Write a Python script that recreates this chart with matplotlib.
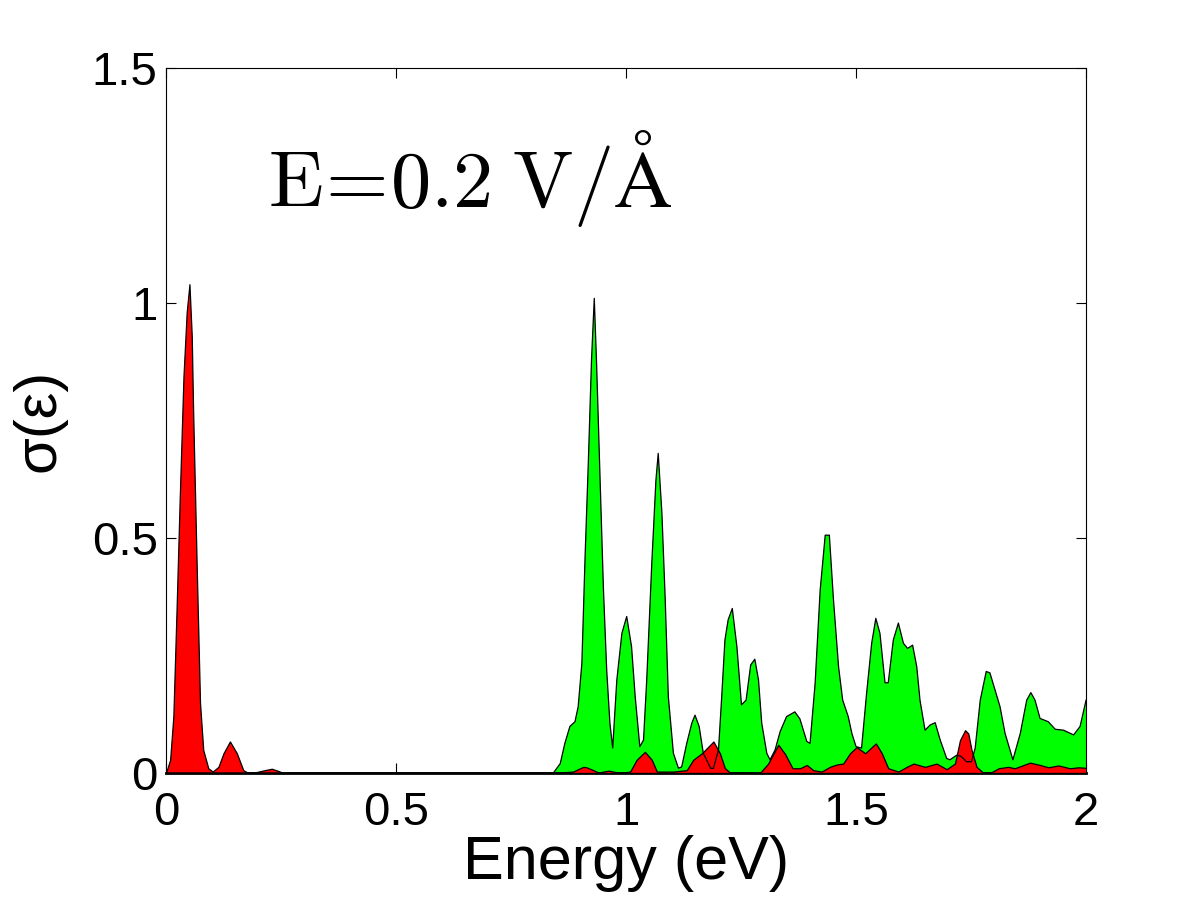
import matplotlib
matplotlib.use('Agg')
import matplotlib.pyplot as plt

plt.rcParams['font.family'] = ['Liberation Sans', 'DejaVu Sans']
plt.rcParams['mathtext.fontset'] = 'cm'

# red curve
energy_red = [0, 0.009, 0.016, 0.023, 0.030, 0.038, 0.045, 0.051, 0.056, 0.059,
              0.067, 0.074, 0.081, 0.092, 0.1015, 0.114, 0.125, 0.139, 0.154, 0.168,
              0.179, 0.197, 0.215, 0.23, 0.245, 0.255, 0.842, 0.885, 0.907, 0.914,
              0.929, 0.94, 0.962, 0.987, 1.009, 1.023, 1.041, 1.056, 1.067, 1.103,
              1.132, 1.146, 1.165, 1.19, 1.204, 1.215, 1.226, 1.291, 1.309, 1.331,
              1.346, 1.362, 1.378, 1.393, 1.407, 1.425, 1.443, 1.458, 1.472, 1.487,
              1.501, 1.52, 1.543, 1.556, 1.57, 1.592, 1.61, 1.625, 1.65, 1.675,
              1.697, 1.715, 1.726, 1.737, 1.744, 1.751, 1.762, 1.777, 1.795, 1.81,
              1.831, 1.845, 1.878, 1.9, 1.918, 1.94, 1.965, 1.983, 2.0]
sigma_red = [0, 0.028, 0.12, 0.347, 0.588, 0.843, 0.98, 1.04, 0.93, 0.77,
             0.43, 0.149, 0.049, 0.01, 0.003, 0.013, 0.042, 0.067, 0.042, 0.006,
             0, 0.002, 0.006, 0.009, 0.004, 0, 0, 0.003, 0.013, 0.012,
             0.006, 0.001, 0.005, 0, 0.003, 0.028, 0.045, 0.028, 0.003, 0.003,
             0.006, 0.028, 0.042, 0.067, 0.042, 0.01, 0.001, 0, 0.02, 0.06,
             0.04, 0.01, 0.01, 0.017, 0.006, 0.003, 0.013, 0.018, 0.02, 0.042,
             0.055, 0.042, 0.063, 0.042, 0.01, 0.003, 0.013, 0.02, 0.013, 0.02,
             0.008, 0.02, 0.07, 0.091, 0.084, 0.049, 0.013, 0, 0.002, 0.01,
             0.013, 0.01, 0.022, 0.017, 0.012, 0.016, 0.01, 0.012, 0.011]

# green curve
energy_green = [0, 0.842, 0.857, 0.867, 0.878, 0.889, 0.896, 0.904, 0.911, 0.918,
                0.925, 0.931, 0.936, 0.943, 0.951, 0.958, 0.965, 0.971, 0.980, 0.991,
                1.0015, 1.012, 1.020, 1.030, 1.038, 1.045, 1.056, 1.065, 1.070, 1.078,
                1.085, 1.092, 1.103, 1.114, 1.121, 1.132, 1.143, 1.150, 1.159, 1.168,
                1.175, 1.184, 1.190, 1.201, 1.208, 1.215, 1.222, 1.231, 1.241, 1.251,
                1.261, 1.271, 1.280, 1.288, 1.295, 1.306, 1.313, 1.324, 1.335, 1.349,
                1.367, 1.378, 1.393, 1.4, 1.411, 1.422, 1.433, 1.442, 1.451, 1.462,
                1.471, 1.483, 1.491, 1.5, 1.512, 1.523, 1.534, 1.543, 1.552, 1.563,
                1.570, 1.581, 1.592, 1.603, 1.612, 1.623, 1.632, 1.639, 1.65, 1.661,
                1.672, 1.683, 1.697, 1.704, 1.719, 1.729, 1.740, 1.751, 1.759, 1.770,
                1.783, 1.791, 1.802, 1.813, 1.824, 1.841, 1.857, 1.871, 1.880, 1.889,
                1.9, 1.918, 1.933, 1.951, 1.973, 1.987, 2.0]
sigma_green = [0, 0, 0.02, 0.063, 0.099, 0.109, 0.141, 0.233, 0.46, 0.659,
               0.879, 1.01, 0.872, 0.645, 0.389, 0.219, 0.106, 0.053, 0.198, 0.297,
               0.333, 0.269, 0.162, 0.056, 0.07, 0.198, 0.446, 0.623, 0.68, 0.553,
               0.375, 0.162, 0.042, 0.01, 0.013, 0.063, 0.106, 0.123, 0.099, 0.042,
               0.028, 0.01, 0.01, 0.049, 0.162, 0.283, 0.326, 0.35, 0.269, 0.145,
               0.155, 0.23, 0.242, 0.198, 0.106, 0.042, 0.028, 0.049, 0.088, 0.12,
               0.13, 0.115, 0.067, 0.063, 0.19, 0.389, 0.506, 0.506, 0.368, 0.226,
               0.155, 0.12, 0.084, 0.056, 0.053, 0.17, 0.276, 0.329, 0.297, 0.192,
               0.192, 0.283, 0.319, 0.276, 0.265, 0.272, 0.226, 0.155, 0.091, 0.102,
               0.107, 0.07, 0.031, 0.028, 0.038, 0.035, 0.024, 0.024, 0.053, 0.155,
               0.216, 0.213, 0.177, 0.141, 0.084, 0.028, 0.084, 0.155, 0.171, 0.155,
               0.116, 0.109, 0.093, 0.091, 0.081, 0.099, 0.155]

xticks = [0, 0.5, 1, 1.5, 2]
xticklabels = ['0', '0.5', '1', '1.5', '2']
yticks = [0, 0.5, 1, 1.5]
yticklabels = ['0', '0.5', '1', '1.5']

fig = plt.figure(figsize=(12.01, 9.01), dpi=100)
ax = fig.add_axes([0.1382, 0.1421, 0.7661, 0.7824])

ax.fill_between(energy_green, sigma_green, 0, facecolor=(0, 1, 0), edgecolor='none', zorder=2)
ax.fill_between(energy_red, sigma_red, 0, facecolor=(1, 0, 0), edgecolor='black', linewidth=0.9, zorder=3)
ax.plot(energy_green, sigma_green, color='black', linewidth=0.9, zorder=4)

ax.set_xlim(0, 2)
ax.set_ylim(0, 1.5)
ax.set_xticks(xticks)
ax.set_xticklabels(xticklabels)
ax.set_yticks(yticks)
ax.set_yticklabels(yticklabels)
ax.tick_params(direction='in', length=7, width=0.8, labelsize=34,
               top=True, right=True)
ax.tick_params(axis='y', pad=6)
ax.tick_params(axis='x', pad=13)
for s in ax.spines.values():
    s.set_linewidth(0.8)
ax.spines['bottom'].set_linewidth(2)

ax.set_xlabel('Energy (eV)', fontsize=44, labelpad=0)
ax.set_ylabel('σ(ε)', fontsize=43, labelpad=18)

ax.text(0.222, 1.205, r'$\mathrm{E}\!=\!\mathrm{0.2\;V/\AA}$', fontsize=58,
        ha='left', va='baseline', zorder=5)

fig.savefig('out.png', dpi=100)
